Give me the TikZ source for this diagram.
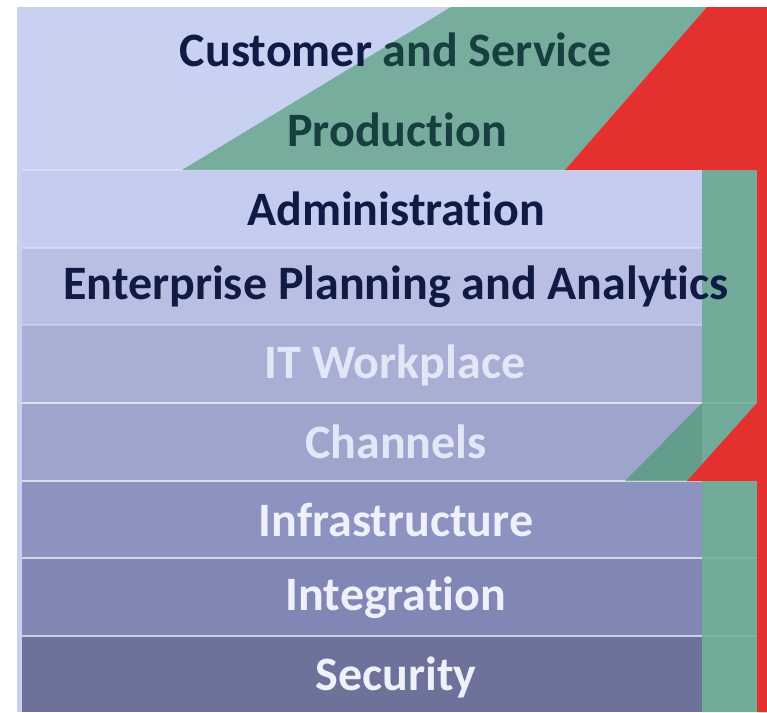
\documentclass[tikz,border=0pt]{standalone}
\usepackage{fontspec}
\setmainfont{Carlito}[Ligatures={NoCommon}]
\definecolor{bglight}{HTML}{C9D1F2}
\definecolor{cAdm}{HTML}{C4CCEF}
\definecolor{cEnt}{HTML}{B8BFE2}
\definecolor{cItw}{HTML}{A8AED4}
\definecolor{cChn}{HTML}{9EA5CD}
\definecolor{cInf}{HTML}{8C93C0}
\definecolor{cInt}{HTML}{8087B5}
\definecolor{cSec}{HTML}{6C7299}
\definecolor{grn}{HTML}{4A9A70}
\definecolor{redc}{HTML}{E4302F}
\definecolor{navy}{HTML}{0F1B45}
\definecolor{darkteal}{HTML}{173F40}
\definecolor{lighttxt}{HTML}{E2E7F8}
\definecolor{whitetxt}{HTML}{EEF1FB}
\tikzset{
  lbl/.style={font=\fontsize{48}{52}\selectfont\bfseries, inner sep=0pt, anchor=center},
  sep/.style={draw=white, line width=2.5pt, opacity=0.65},
  softsep/.style={draw=white, line width=1.5pt, opacity=0.3},
}
\begin{document}
\begin{tikzpicture}[x=1pt,y=-1pt]
\useasboundingbox (0,0) rectangle (767,712);
\fill[white] (0,0) rectangle (767,712);
\fill[bglight] (17,7) rectangle (767,712);
% bands
\fill[cAdm] (22,170) rectangle (702,248);
\fill[cEnt] (22,248) rectangle (702,325);
\fill[cItw] (22,325) rectangle (702,403);
\fill[cChn] (22,403) rectangle (702,481);
\fill[cInf] (22,481) rectangle (702,558);
\fill[cInt] (22,558) rectangle (702,636);
\fill[cSec] (22,636) rectangle (702,712);
% separators
\draw[softsep] (22,170) -- (757,170);
\draw[softsep] (22,248) -- (702,248);
\draw[softsep] (22,325) -- (702,325);
\draw[sep] (22,403) -- (757,403);
\draw[sep] (22,481) -- (757,481);
\draw[sep] (22,558) -- (757,558);
\draw[sep] (22,636) -- (757,636);
% green shapes
\fill[grn, opacity=0.65] (182,170) -- (451,7) -- (707,7) -- (565,170) -- cycle;
\fill[grn, opacity=0.68] (702,170) -- (757,170) -- (757,712) -- (702,712) -- (702,481) -- (625,481) -- (702,403) -- cycle;
% red shape
\fill[redc] (565,170) -- (707,7) -- (767,7) -- (767,712) -- (757,712) -- (757,481) -- (687,481) -- (757,403) -- (757,170) -- cycle;
% texts
\node[lbl] (cust) at (396,50) {\textcolor{navy}{Customer} \textcolor{darkteal}{and Service}};
\node[lbl, text=darkteal] (prod) at (397,130) {Production};
\node[lbl, text=navy] (adm) at (396,209) {Administration};
\node[lbl, text=navy] (ent) at (396,287) {Enterprise Planning and Analytics};
\node[lbl, text=lighttxt] (itw) at (395,365) {IT Workplace};
\node[lbl, text=lighttxt] (chn) at (396,442) {Channels};
\node[lbl, text=whitetxt] (inf) at (396,520) {Infrastructure};
\node[lbl, text=whitetxt] (intg) at (396,598) {Integration};
\node[lbl, text=whitetxt] (sec) at (396,677) {Security};
\end{tikzpicture}
\end{document}
